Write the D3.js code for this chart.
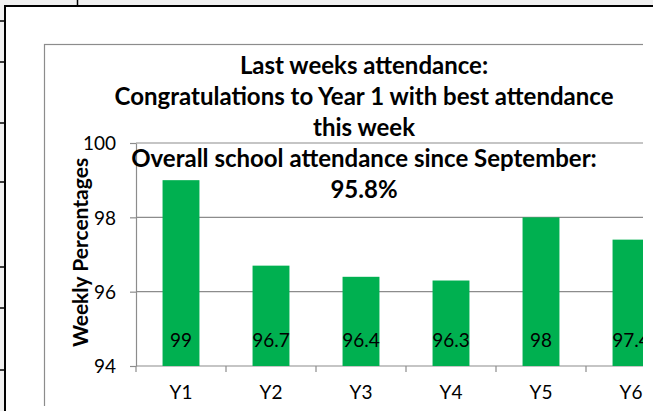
<!DOCTYPE html>
<html>
<head>
<meta charset="utf-8">
<script src="https://cdn.jsdelivr.net/npm/d3@7"></script>
<style>
html, body { margin: 0; padding: 0; background: #f0f0f0; overflow: hidden; }
svg { display: block; }
text { font-family: Lato, "Open Sans", sans-serif; fill: #000; }
</style>
</head>
<body>
<div id="vis"></div>
<script>
// data
var years = ["Y1", "Y2", "Y3", "Y4", "Y5", "Y6"];
var attendance = [99, 96.7, 96.4, 96.3, 98, 97.4];
var yTicks = [94, 96, 98, 100];
var titleLines = [
    "Last weeks attendance:",
    "Congratulations to Year 1 with best attendance",
    "this week",
    "Overall school attendance since September:",
    "95.8%"
];
var yTitle = "Weekly Percentages";

var width = 653,
    height = 411;

var svg = d3.select("#vis")
    .append("svg")
    .attr("width", width)
    .attr("height", height);

////////// page / table frame //////////

svg.append("rect")
    .attr("width", width)
    .attr("height", height)
    .attr("fill", "#f0f0f0");

svg.append("rect")
    .attr("x", 5)
    .attr("y", 6)
    .attr("width", width)
    .attr("height", height)
    .attr("fill", "#fff");

var frame = svg.append("g").attr("stroke", "#000");

frame.append("line")
    .attr("x1", 4).attr("x2", width)
    .attr("y1", 6).attr("y2", 6)
    .attr("stroke-width", 2);

frame.append("line")
    .attr("x1", 5).attr("x2", 5)
    .attr("y1", 5).attr("y2", height)
    .attr("stroke-width", 2);

frame.append("line")
    .attr("x1", 77.5).attr("x2", 77.5)
    .attr("y1", 0).attr("y2", 6)
    .attr("stroke-width", 1.5);

// row marks on the left edge of the table
var rowMarks = [21, 62, 123, 182, 267, 308, 370];
frame.selectAll(".rowmark")
    .data(rowMarks)
    .enter()
    .append("line")
    .attr("class", "rowmark")
    .attr("x1", 0).attr("x2", 5)
    .attr("y1", function (d) { return d; })
    .attr("y2", function (d) { return d; })
    .attr("stroke-width", 1.5);

////////// chart //////////

svg.append("clipPath")
    .attr("id", "clip")
    .append("rect")
    .attr("x", 0).attr("y", 0)
    .attr("width", 643).attr("height", 406);

var chart = svg.append("g").attr("clip-path", "url(#clip)");

chart.append("rect")
    .attr("x", 44.5)
    .attr("y", 44.5)
    .attr("width", 640)
    .attr("height", 420)
    .attr("fill", "#fff")
    .attr("stroke", "#8c8c8c")
    .attr("stroke-width", 1.2);

var x = d3.scaleBand()
    .domain(years)
    .range([136, 676])
    .paddingInner(0.59)
    .paddingOuter(0.295);

var y = d3.scaleLinear()
    .domain([94, 100])
    .range([366, 143]);

// gridlines
chart.append("g")
    .selectAll("line")
    .data(yTicks)
    .enter()
    .append("line")
    .attr("x1", 136)
    .attr("x2", 676)
    .attr("y1", function (d) { return y(d); })
    .attr("y2", function (d) { return y(d); })
    .attr("stroke", "#8c8c8c")
    .attr("stroke-width", 1.2);

// bars
chart.append("g")
    .selectAll("rect")
    .data(years)
    .enter()
    .append("rect")
    .attr("x", function (d) { return x(d); })
    .attr("width", x.bandwidth())
    .attr("y", function (d, i) { return y(attendance[i]); })
    .attr("height", function (d, i) { return y(94) - y(attendance[i]); })
    .attr("fill", "#00b050");

// data labels
chart.append("g")
    .selectAll("text")
    .data(years)
    .enter()
    .append("text")
    .attr("x", function (d) { return x(d) + x.bandwidth() / 2; })
    .attr("y", 347)
    .attr("text-anchor", "middle")
    .style("font-size", "19px")
    .text(function (d, i) { return attendance[i]; });

// y axis
var yAxis = chart.append("g")
    .attr("transform", "translate(136,0)")
    .call(d3.axisLeft(y)
        .tickValues(yTicks)
        .tickFormat(d3.format("d"))
        .tickSize(6)
        .tickSizeOuter(0)
        .tickPadding(14));

yAxis.select(".domain").attr("stroke", "#8c8c8c").attr("stroke-width", 1.2);
yAxis.selectAll(".tick line").attr("stroke", "#8c8c8c").attr("stroke-width", 1.2);
yAxis.selectAll(".tick text")
    .attr("dy", "0.36em")
    .style("font-size", "19px")
    .style("font-family", "Lato, 'Open Sans', sans-serif")
    .attr("fill", "#000");

// x axis: category labels
var xAxis = chart.append("g")
    .attr("transform", "translate(0,366)")
    .call(d3.axisBottom(x).tickSize(0).tickPadding(20));

xAxis.select(".domain").remove();
xAxis.selectAll(".tick text")
    .style("font-size", "19px")
    .style("font-family", "Lato, 'Open Sans', sans-serif")
    .attr("fill", "#000");

// x axis: tick marks between categories
var bounds = years.map(function (d) { return x(d) + x.bandwidth() / 2 - x.step() / 2; });
bounds.push(x.range()[1]);

chart.append("g")
    .selectAll("line")
    .data(bounds)
    .enter()
    .append("line")
    .attr("x1", function (d) { return d; })
    .attr("x2", function (d) { return d; })
    .attr("y1", 366)
    .attr("y2", 372)
    .attr("stroke", "#8c8c8c")
    .attr("stroke-width", 1.2);

// y title
chart.append("text")
    .attr("transform", "translate(88,252.5) rotate(-90)")
    .attr("text-anchor", "middle")
    .style("font-size", "21px")
    .style("font-weight", "bold")
    .text(yTitle);

// title
chart.append("g")
    .selectAll("text")
    .data(titleLines)
    .enter()
    .append("text")
    .attr("x", 364)
    .attr("y", function (d, i) { return 74 + i * 31; })
    .attr("text-anchor", "middle")
    .style("font-size", "24px")
    .style("font-weight", "bold")
    .text(function (d) { return d; });
</script>
</body>
</html>
